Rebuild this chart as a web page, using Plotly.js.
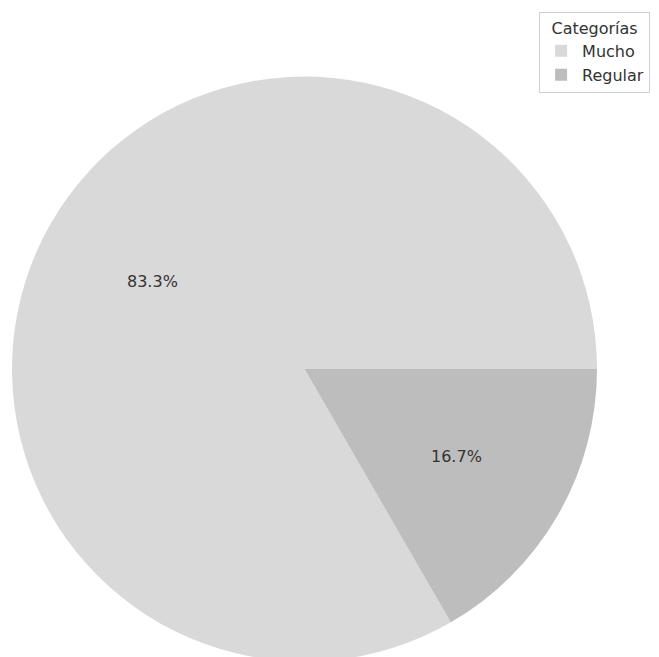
<!DOCTYPE html>
<html>
<head>
<meta charset="utf-8">
<script src="https://cdn.plot.ly/plotly-3.0.1.min.js"></script>
<style>html,body{margin:0;padding:0;overflow:hidden;background:#fff;}</style>
</head>
<body>
<div id="chart" style="width:659px;height:670px;"></div>
<script>
const categories = ["Mucho", "Regular"];
const values = [5, 1];
const colors = ["#d9d9d9", "#bdbdbd"];
const legendTitle = "Categorías";

const W = 585, H = 586, R = 293;
const total = values.reduce((a, b) => a + b, 0);
let start = 0;
const annotations = values.map((v, i) => {
  const frac = v / total;
  const mid = (start + frac / 2) * 2 * Math.PI;
  start += frac;
  return {
    x: 0.5 + 0.6 * R * Math.cos(mid) / W,
    y: 0.5 + 0.6 * R * Math.sin(mid) / H,
    xref: "paper", yref: "paper",
    xanchor: "center", yanchor: "middle",
    text: (frac * 100).toFixed(1) + "%",
    showarrow: false,
    font: {family: "DejaVu Sans", size: 16, color: "#333333"}
  };
});

const data = [{
  type: "pie",
  labels: categories,
  values: values,
  marker: {colors: colors, line: {width: 0}},
  sort: false,
  direction: "counterclockwise",
  rotation: 150,
  textinfo: "none",
  hoverinfo: "label+percent",
  domain: {x: [0, 1], y: [0, 1]}
}];

const layout = {
  width: 659, height: 670,
  margin: {l: 12, r: 62, t: 76, b: 8},
  paper_bgcolor: "#ffffff",
  font: {family: "DejaVu Sans", size: 16, color: "#333333"},
  showlegend: true,
  legend: {
    title: {text: legendTitle, side: "top center", font: {family: "DejaVu Sans", size: 16, color: "#333333"}},
    x: 0.901, y: 1.109, xanchor: "left", yanchor: "top",
    itemwidth: 32,
    bordercolor: "#d0d0d0", borderwidth: 1, bgcolor: "#ffffff",
    font: {family: "DejaVu Sans", size: 16, color: "#333333"}
  },
  annotations: annotations
};

Plotly.newPlot("chart", data, layout, {displayModeBar: false, staticPlot: true});
</script>
</body>
</html>
